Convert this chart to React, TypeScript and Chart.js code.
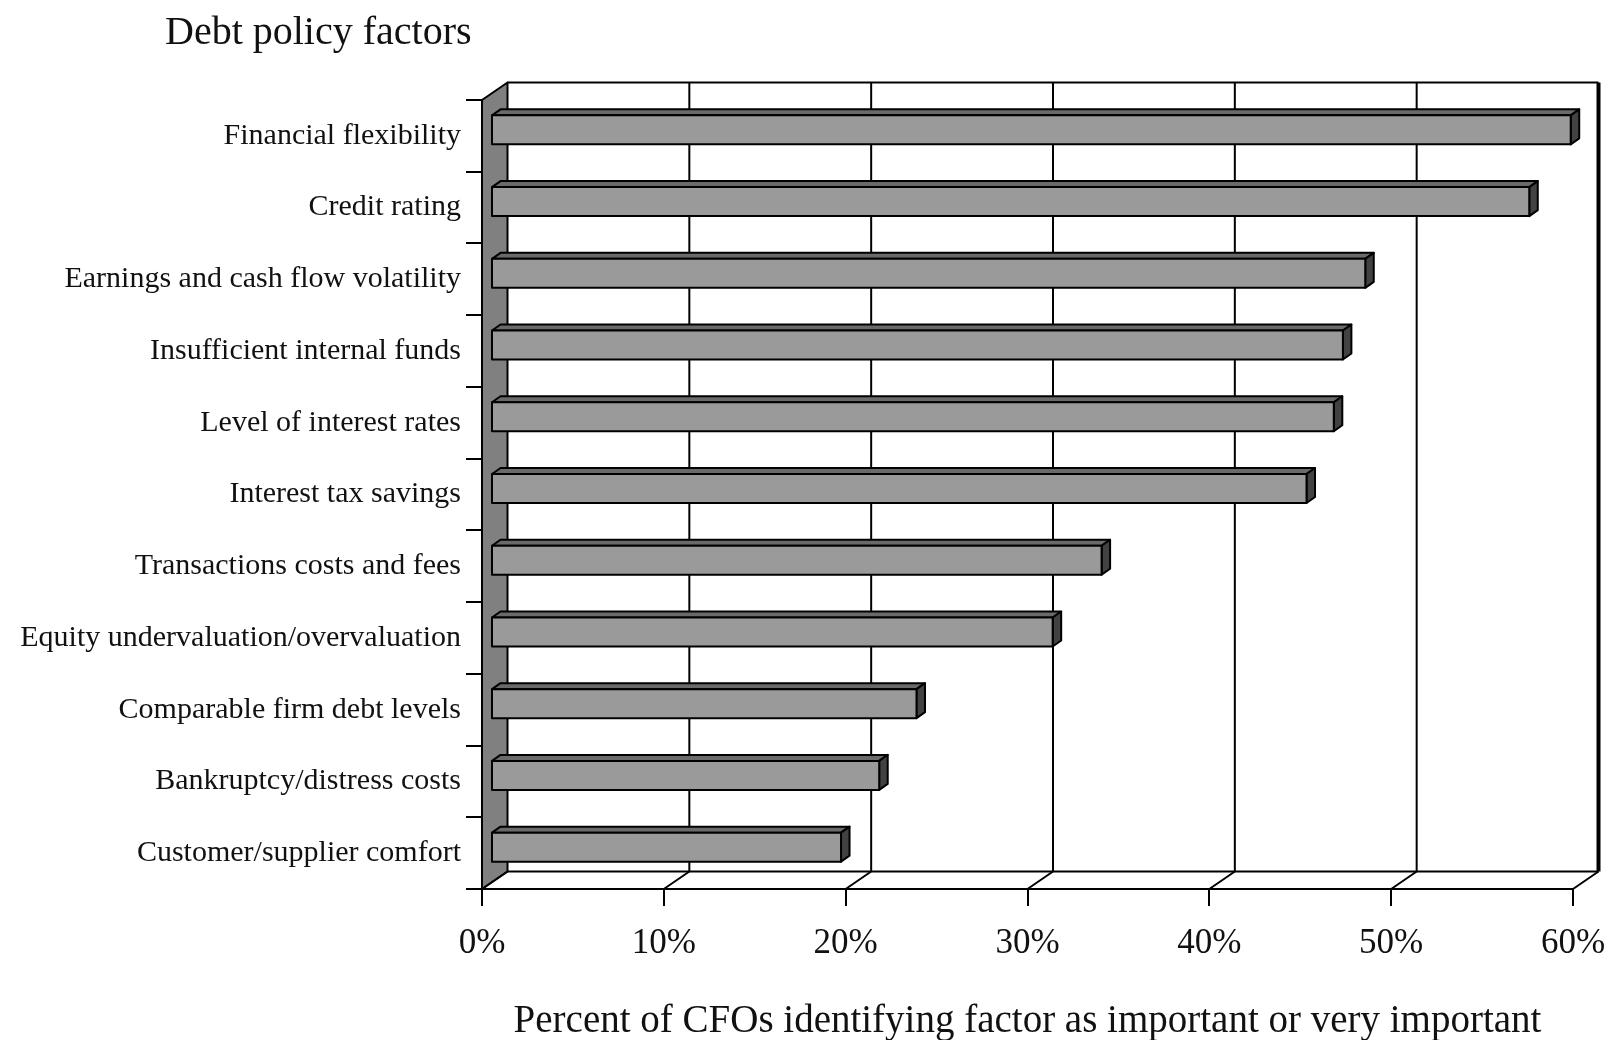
import React, { useEffect, useRef } from "react";
import { Chart, registerables } from "chart.js";

Chart.register(...registerables);

const categories = [
  "Financial flexibility",
  "Credit rating",
  "Earnings and cash flow volatility",
  "Insufficient internal funds",
  "Level of interest rates",
  "Interest tax savings",
  "Transactions costs and fees",
  "Equity undervaluation/overvaluation",
  "Comparable firm debt levels",
  "Bankruptcy/distress costs",
  "Customer/supplier comfort",
];

const percentImportant = [59.38, 57.1, 48.08, 46.85, 46.35, 44.85, 33.58, 30.89, 23.4, 21.35, 19.25];

const xTickValues = [0, 10, 20, 30, 40, 50, 60];

const chartTitle = "Debt policy factors";
const xAxisTitle = "Percent of CFOs identifying factor as important or very important";

const SERIF = "'Liberation Serif', 'Times New Roman', serif";

// 3D geometry (pixels)
const DEPTH_X = 25.5;
const DEPTH_Y = -17.5;
const BAR_OFF_X = 9;
const BAR_OFF_Y = -6;
const BAR_DEPTH_X = 8.5;
const BAR_DEPTH_Y = -6;

const threeDPlugin = {
  id: "threeD",
  beforeDatasetsDraw(chart: any) {
    const { ctx, chartArea, scales } = chart;
    const { left, right, top, bottom } = chartArea;
    const x = scales.x;
    ctx.save();
    ctx.lineJoin = "round";
    ctx.strokeStyle = "#000";
    // left wall
    ctx.fillStyle = "#808080";
    ctx.lineWidth = 2;
    ctx.beginPath();
    ctx.moveTo(left, top);
    ctx.lineTo(left + DEPTH_X, top + DEPTH_Y);
    ctx.lineTo(left + DEPTH_X, bottom + DEPTH_Y);
    ctx.lineTo(left, bottom);
    ctx.closePath();
    ctx.fill();
    ctx.stroke();
    // back wall top & bottom lines
    ctx.beginPath();
    ctx.moveTo(left + DEPTH_X, top + DEPTH_Y);
    ctx.lineTo(right + DEPTH_X, top + DEPTH_Y);
    ctx.moveTo(left + DEPTH_X, bottom + DEPTH_Y);
    ctx.lineTo(right + DEPTH_X, bottom + DEPTH_Y);
    ctx.stroke();
    // grid lines on back wall and floor
    x.ticks.forEach((t: any) => {
      const px = x.getPixelForValue(t.value);
      if (t.value > 0) {
        ctx.lineWidth = t.value === x.max ? 4 : 2;
        ctx.beginPath();
        ctx.moveTo(px + DEPTH_X, top + DEPTH_Y);
        ctx.lineTo(px + DEPTH_X, bottom + DEPTH_Y);
        ctx.stroke();
      }
      ctx.lineWidth = 2;
      ctx.beginPath();
      ctx.moveTo(px + DEPTH_X, bottom + DEPTH_Y);
      ctx.lineTo(px, bottom);
      ctx.stroke();
    });
    ctx.restore();
  },
  afterDatasetsDraw(chart: any) {
    const { ctx } = chart;
    const meta = chart.getDatasetMeta(0);
    ctx.save();
    ctx.lineJoin = "round";
    ctx.strokeStyle = "#000";
    ctx.lineWidth = 2;
    meta.data.forEach((el: any) => {
      const p = el.getProps(["x", "y", "base", "height"], true);
      const l = p.base + BAR_OFF_X;
      const r = p.x + BAR_OFF_X;
      const t = p.y - p.height / 2 + BAR_OFF_Y;
      const b = p.y + p.height / 2 + BAR_OFF_Y;
      // top face
      ctx.fillStyle = "#6a6a6a";
      ctx.beginPath();
      ctx.moveTo(l, t);
      ctx.lineTo(l + BAR_DEPTH_X, t + BAR_DEPTH_Y);
      ctx.lineTo(r + BAR_DEPTH_X, t + BAR_DEPTH_Y);
      ctx.lineTo(r, t);
      ctx.closePath();
      ctx.fill();
      ctx.stroke();
      // side face
      ctx.fillStyle = "#424242";
      ctx.beginPath();
      ctx.moveTo(r, t);
      ctx.lineTo(r + BAR_DEPTH_X, t + BAR_DEPTH_Y);
      ctx.lineTo(r + BAR_DEPTH_X, b + BAR_DEPTH_Y);
      ctx.lineTo(r, b);
      ctx.closePath();
      ctx.fill();
      ctx.stroke();
      // front face
      ctx.fillStyle = "#9a9a9a";
      ctx.beginPath();
      ctx.rect(l, t, r - l, b - t);
      ctx.fill();
      ctx.stroke();
    });
    ctx.restore();
  },
  afterDraw(chart: any) {
    const { ctx } = chart;
    ctx.save();
    ctx.fillStyle = "#111";
    ctx.font = `40px ${SERIF}`;
    ctx.textAlign = "left";
    ctx.textBaseline = "alphabetic";
    ctx.fillText(chartTitle, 165, 44);
    ctx.restore();
  },
};

export default function App() {
  const canvasRef = useRef<HTMLCanvasElement | null>(null);

  useEffect(() => {
    const canvas = canvasRef.current;
    if (!canvas) return;
    const chart = new Chart(canvas, {
      type: "bar",
      data: {
        labels: categories,
        datasets: [
          {
            label: "Percent",
            data: percentImportant,
            backgroundColor: "rgba(0,0,0,0)",
            borderWidth: 0,
            barThickness: 29,
          },
        ],
      },
      options: {
        indexAxis: "y",
        responsive: false,
        animation: false,
        devicePixelRatio: 1,
        layout: { padding: { top: 100, right: 40, left: 0, bottom: 0 } },
        plugins: {
          legend: { display: false },
          tooltip: { enabled: false },
          title: { display: false },
        },
        scales: {
          x: {
            type: "linear",
            min: 0,
            max: 60,
            afterFit: (scale: any) => {
              scale.height = 151;
              scale.paddingLeft = 0;
              scale.paddingRight = 0;
            },
            afterBuildTicks: (scale: any) => {
              scale.ticks = xTickValues.map((v) => ({ value: v }));
            },
            ticks: {
              callback: (v: any) => `${v}%`,
              font: { family: SERIF, size: 35 },
              color: "#111",
              padding: 17,
              maxRotation: 0,
              autoSkip: false,
            },
            grid: {
              drawOnChartArea: false,
              drawTicks: true,
              tickLength: 17,
              color: "#000",
              lineWidth: 2,
            },
            border: { display: true, color: "#000", width: 2 },
            title: {
              display: true,
              text: xAxisTitle,
              font: { family: SERIF, size: 39 },
              color: "#111",
              padding: { top: 0, bottom: -5 },
            },
          },
          y: {
            type: "category",
            afterFit: (scale: any) => {
              scale.width = 482;
              scale.paddingTop = 0;
              scale.paddingBottom = 0;
            },
            ticks: {
              font: { family: SERIF, size: 30 },
              color: "#111",
              padding: 5,
              autoSkip: false,
            },
            grid: {
              offset: true,
              drawOnChartArea: false,
              drawTicks: true,
              tickLength: 16,
              color: "#000",
              lineWidth: 2,
            },
            border: { display: true, color: "#000", width: 2 },
          },
        },
      },
      plugins: [threeDPlugin],
    } as any);
    return () => chart.destroy();
  }, []);

  return (
    <div style={{ position: "fixed", left: 0, top: 0, width: 1613, height: 1040, background: "#fff" }}>
      <canvas ref={canvasRef} width={1613} height={1040} style={{ width: 1613, height: 1040, display: "block" }} />
    </div>
  );
}
